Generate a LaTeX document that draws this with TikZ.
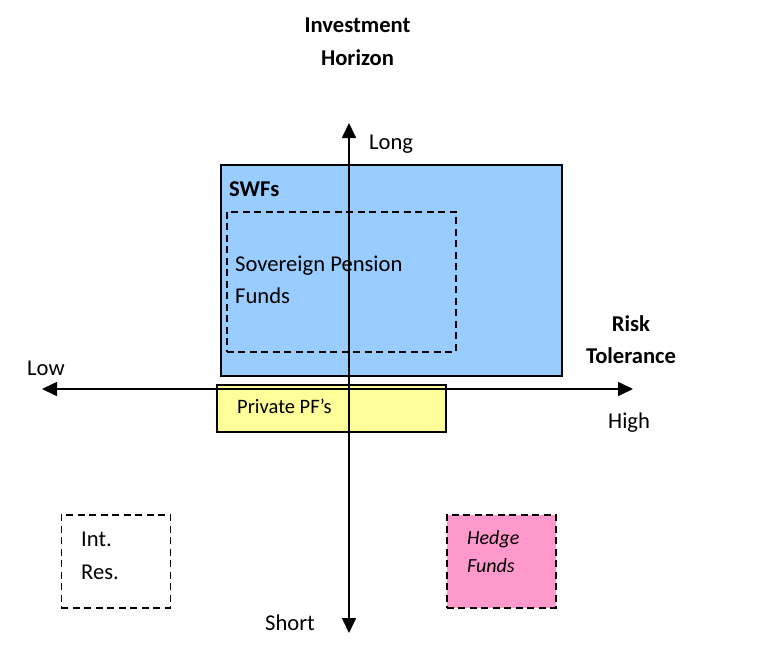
\documentclass[tikz,border=0pt]{standalone}
\usepackage{fontspec}
\setmainfont{Carlito}
\usetikzlibrary{arrows.meta}
\definecolor{swfblue}{HTML}{99CCFF}
\definecolor{ppfyellow}{HTML}{FFFF99}
\definecolor{hfpink}{HTML}{FF99CC}
\tikzset{
  box/.style={draw=black, line width=1.8pt, inner sep=0pt, anchor=north west},
  dbox/.style={box, dash pattern=on 7pt off 4.5pt},
  lbl/.style={inner sep=0pt, anchor=base west, font=\fontsize{22.6}{26}\selectfont},
  clbl/.style={lbl, anchor=base},
  axis/.style={line width=1.7pt, {Triangle[length=15pt,width=14pt]}-{Triangle[length=15pt,width=14pt]}}
}
\begin{document}
\begin{tikzpicture}[x=1pt,y=-1pt]
\useasboundingbox (0,0) rectangle (775,661);
% boxes
\node[box, fill=swfblue, minimum width=341pt, minimum height=211pt] (swf) at (220,164) {};
\node[dbox, minimum width=229pt, minimum height=140pt] (spf) at (226,211) {};
\node[box, fill=ppfyellow, minimum width=229pt, minimum height=47pt] (ppf) at (216,384) {};
\node[dbox, minimum width=109pt, minimum height=93pt] (ir) at (60.5,514) {};
\node[dbox, fill=hfpink, minimum width=109pt, minimum height=93pt] (hf) at (446,514) {};
% axes
\coordinate (top) at (349,123);
\coordinate (bot) at (349,633);
\coordinate (left) at (42,389);
\coordinate (right) at (633,389);
\draw[axis] (left) -- (right);
\draw[axis] (bot) -- (top);
% labels
\node[clbl, font=\fontsize{22.6}{26}\selectfont\bfseries] (t1) at (357.5,33) {Investment};
\node[clbl, font=\fontsize{22.6}{26}\selectfont\bfseries] (t2) at (357.5,66) {Horizon};
\node[lbl] (long) at (369,149) {Long};
\node[lbl] (short) at (265,630) {Short};
\node[lbl] (low) at (27,375) {Low};
\node[lbl] (high) at (608,428) {High};
\node[clbl, font=\fontsize{22.6}{26}\selectfont\bfseries] (r1) at (631,331) {Risk};
\node[clbl, font=\fontsize{22.6}{26}\selectfont\bfseries] (r2) at (631,363) {Tolerance};
\node[lbl, font=\fontsize{22.6}{26}\selectfont\bfseries] (swft) at (229,196) {SWFs};
\node[lbl] (sp1) at (235,271) {Sovereign Pension};
\node[lbl] (sp2) at (235,303) {Funds};
\node[lbl, font=\fontsize{20.5}{24}\selectfont] (ppft) at (237,413) {Private PF’s};
\node[lbl] (ir1) at (81,546) {Int.};
\node[lbl] (ir2) at (81,579) {Res.};
\node[lbl, font=\fontsize{20}{24}\selectfont\itshape] (hf1) at (467,544) {Hedge};
\node[lbl, font=\fontsize{20}{24}\selectfont\itshape] (hf2) at (467,572) {Funds};
\end{tikzpicture}
\end{document}
